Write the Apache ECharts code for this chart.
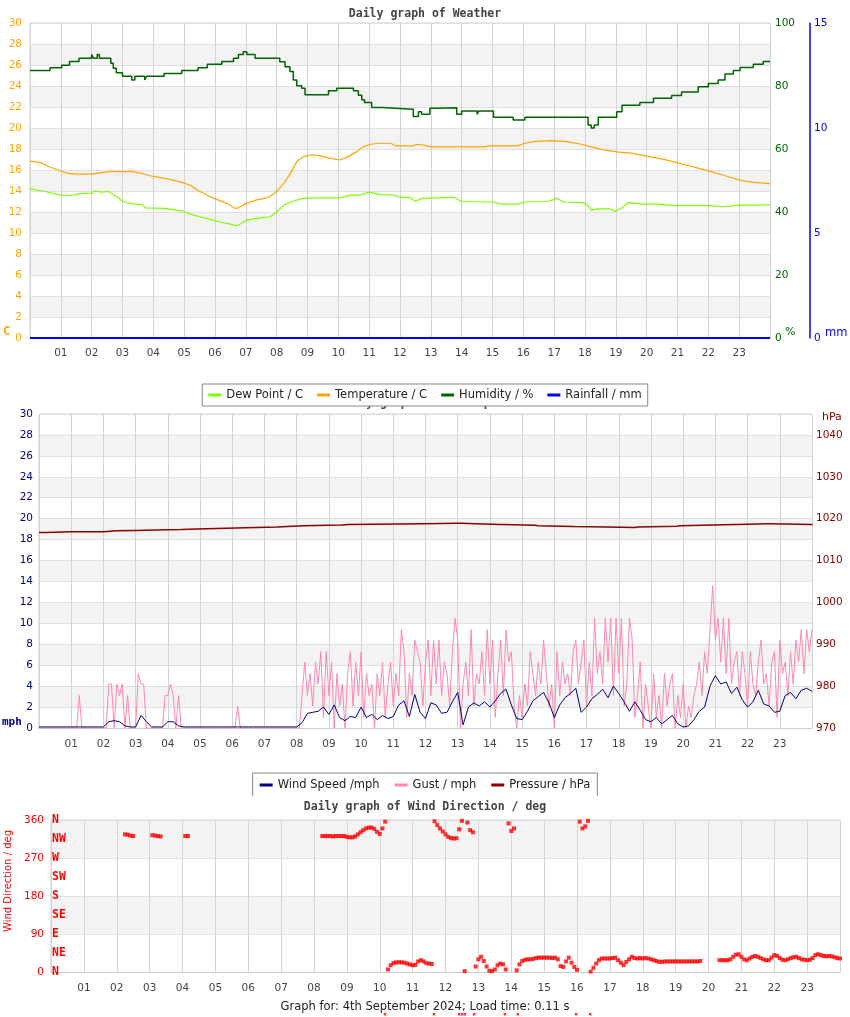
<!DOCTYPE html>
<html><head><meta charset="utf-8">
<script src="https://cdn.jsdelivr.net/npm/echarts/dist/echarts.min.js"></script>
<style>html,body{margin:0;padding:0;background:#fff}#c{width:850px;height:1017px}</style>
</head><body><div id="c"></div>
<script>
// ---------- tick labels ----------
const hourLabels = ['01','02','03','04','05','06','07','08','09','10','11','12','13','14','15','16','17','18','19','20','21','22','23'];
const compassLabels = ['N','NE','E','SE','S','SW','W','NW','N'];

// ---------- Weather panel (hours, values) ----------
const tempTime = [0,0.35,0.55,0.9,1.2,1.5,2.0,2.3,2.6,3.3,3.6,3.9,4.45,4.95,5.2,5.45,5.75,6.05,6.4,6.65,6.75,7.0,7.35,7.7,7.9,8.05,8.25,8.45,8.65,8.85,9.15,9.4,9.75,10.05,10.3,10.6,10.8,11.05,11.3,11.7,11.85,12.4,12.55,12.8,13.0,14.7,14.9,15.8,16.0,16.3,16.9,17.4,17.8,18.2,18.65,19.1,19.5,19.95,20.4,20.8,21.25,21.7,22.1,22.55,23.0,23.4,24.0];
const tempC = [16.85,16.7,16.4,16.0,15.7,15.6,15.6,15.75,15.85,15.85,15.7,15.45,15.15,14.8,14.55,14.05,13.6,13.2,12.8,12.35,12.4,12.8,13.15,13.35,13.7,14.1,14.8,15.7,16.8,17.25,17.45,17.35,17.1,16.95,17.25,17.75,18.2,18.45,18.55,18.55,18.3,18.3,18.45,18.35,18.2,18.2,18.3,18.3,18.5,18.7,18.8,18.7,18.5,18.2,17.9,17.7,17.6,17.35,17.1,16.85,16.5,16.15,15.85,15.45,15.05,14.85,14.7];

const dewTime = [0,0.3,0.5,0.75,1.0,1.2,1.5,1.6,2.0,2.1,2.3,2.55,2.7,2.85,3.0,3.35,3.65,3.75,4.4,4.75,4.95,5.2,5.5,5.85,6.15,6.5,6.7,6.85,7.0,7.35,7.8,8.0,8.25,8.55,8.85,9.3,10.05,10.4,10.7,11.0,11.35,11.8,12.0,12.3,12.5,12.7,13.75,14.0,15.0,15.3,15.85,16.0,16.8,17.1,17.3,17.95,18.1,18.22,18.4,18.8,18.97,19.2,19.4,19.85,20.4,20.9,22.0,22.5,23.0,24.0];
const dewC = [14.2,14.05,13.95,13.75,13.6,13.55,13.65,13.75,13.8,14.0,13.9,13.95,13.65,13.4,13.0,12.75,12.7,12.4,12.35,12.15,12.1,11.8,11.55,11.3,11.05,10.85,10.67,10.9,11.2,11.4,11.55,12.0,12.7,13.05,13.3,13.35,13.35,13.6,13.6,13.9,13.65,13.6,13.4,13.4,13.0,13.3,13.4,13.0,12.95,12.75,12.75,12.95,13.0,13.3,12.95,12.9,12.6,12.15,12.3,12.3,12.05,12.4,12.9,12.75,12.75,12.6,12.6,12.5,12.65,12.67];

const humTime = [0,0.65,1.03,1.28,1.59,2.0,2.06,2.18,2.25,2.62,2.7,2.8,3.0,3.3,3.4,3.72,3.78,4.35,4.92,5.45,5.75,6.22,6.6,6.76,6.92,7.03,7.3,8.1,8.27,8.43,8.54,8.65,8.81,8.92,9.68,9.95,10.49,10.65,10.76,10.85,11.08,11.41,12.43,12.6,12.7,12.97,13.19,13.84,14.0,14.5,14.55,15.03,15.67,16.05,18.1,18.2,18.3,18.43,19.03,19.2,19.78,20.22,20.81,21.13,21.67,22.0,22.32,22.54,22.81,23.03,23.46,23.78,24.0];
const humPct = [84.9,85.8,86.6,87.8,88.8,90.0,88.8,90.0,88.8,87.2,85.6,84.2,83.1,81.9,83.1,81.9,83.1,84.0,84.9,85.8,86.9,87.8,88.8,90.0,90.9,90.0,88.8,87.7,86.1,84.6,81.9,80.1,79.3,77.2,78.5,79.3,78.5,77.1,75.6,74.8,73.2,72.6,70.3,71.8,71.0,72.9,73.1,71.0,72.1,71.0,72.1,70.1,69.2,70.1,67.6,66.7,67.6,70.1,71.8,73.9,74.8,76.1,77.0,78.1,79.8,80.8,81.9,83.8,84.9,85.9,86.9,87.8,87.8];

const rainTime = [0,24];
const rainMm = [0,0];

// ---------- Wind panel ----------
const GUST_STEP_H = 1/12;   // 5-minute samples
const gustMph = [
0,0,0,0,0,0,0,0,0,0,0,0,
0,0,0,3.1,0,0,0,0,0,0,0,0,
0,0,4.2,4.2,0,4.2,3.1,4.2,0,3.1,0,0,
0,5.2,4.2,4.2,0,0,0,0,0,0,0,3.1,
3.1,4.2,3.1,0,3.1,0,0,0,0,0,0,0,
0,0,0,0,0,0,0,0,0,0,0,0,
0,0,2.1,0,0,0,0,0,0,0,0,0,
0,0,0,0,0,0,0,0,0,0,0,0,
0,0,3.1,6.3,3.1,5.2,2.1,6.3,4.2,7.3,1.0,7.3,
3.1,6.3,0,5.2,2.1,4.2,0,5.2,7.3,2.1,6.3,3.1,
7.3,1.0,5.2,3.1,4.2,0,5.2,3.1,6.3,1.0,4.2,6.3,
2.1,5.2,3.1,9.4,7.3,1.0,5.2,3.1,8.4,7.3,6.3,2.1,
6.3,8.4,3.1,8.4,4.2,8.4,3.1,6.3,5.2,2.1,7.3,10.5,
8.4,0,4.2,6.3,3.1,9.4,2.1,5.2,4.2,7.3,3.1,9.4,
4.2,8.4,1.0,5.2,8.4,3.1,9.4,6.3,7.3,2.1,0,3.1,
1.0,4.2,2.1,7.3,5.2,3.1,6.3,4.2,8.4,5.2,2.1,4.2,
0,7.3,3.1,6.3,4.2,5.2,3.1,7.3,8.4,4.2,6.3,8.4,
2.1,6.3,3.1,10.5,5.2,7.3,4.2,10.5,6.3,10.5,3.1,10.5,
5.2,10.5,2.1,4.2,10.5,8.4,1.0,3.1,6.3,0,4.2,2.1,
0,5.2,1.0,3.1,0,5.2,2.1,4.2,5.2,0,3.1,1.0,
4.2,0,2.1,1.0,3.1,4.2,6.3,3.1,7.3,5.2,9.4,13.6,
8.4,10.5,6.3,10.5,5.2,10.5,4.2,6.3,7.3,3.1,7.3,5.2,
2.1,7.3,4.2,3.1,6.3,8.4,4.2,5.2,2.1,6.3,7.3,1.0,
8.4,5.2,6.3,3.1,7.3,4.2,8.4,6.3,9.4,5.2,9.4,7.3,
9.4];

const WIND_STEP_H = 1/6;    // 10-minute samples
const windMph = [
0.1,0.1,0.1,0.1,0.1,0.1,
0.1,0.1,0.1,0.1,0.1,0.1,
0.1,0.6,0.7,0.6,0.2,0.1,
0.1,1.2,0.6,0.1,0.1,0.1,
0.6,0.6,0.2,0.1,0.1,0.1,
0.1,0.1,0.1,0.1,0.1,0.1,
0.1,0.1,0.1,0.1,0.1,0.1,
0.1,0.1,0.1,0.1,0.1,0.1,
0.1,0.5,1.4,1.5,1.6,2.0,
1.3,2.2,1.0,0.7,1.1,1.0,
2.0,1.0,1.3,0.8,1.2,0.9,
1.1,2.2,2.6,1.1,3.2,1.5,
0.9,2.4,2.2,1.4,1.5,2.5,
3.4,0.3,2.0,2.4,2.1,2.5,
2.0,2.6,3.3,3.7,2.2,0.9,
0.8,1.6,2.6,3.0,3.4,2.4,
1.0,2.2,2.9,3.3,3.8,1.5,
2.0,2.8,3.2,3.7,2.9,4.0,
3.3,2.5,1.6,2.5,1.7,0.8,
0.6,1.0,0.4,0.8,1.2,0.4,
0.1,0.2,0.8,1.6,2.0,4.0,
5.0,4.2,4.4,3.3,3.9,2.7,
2.0,2.5,3.6,2.3,2.1,1.5,
1.6,3.1,3.4,2.8,3.6,3.8,
3.5];

const pressTime = [0,0.2,1.0,2.0,2.4,3.0,3.6,4.4,5.2,6.1,7.4,8.2,9.4,9.6,11.9,13.0,13.1,14.3,14.4,15.4,15.5,16.6,17.6,18.5,18.6,19.8,19.9,21.6,21.7,22.6,22.7,24.0];
const pressHpa = [1016.7,1016.9,1016.9,1017.1,1017.2,1017.3,1017.4,1017.6,1017.8,1018.0,1018.3,1018.5,1018.6,1018.8,1018.9,1018.9,1018.6,1018.6,1018.4,1018.3,1018.1,1018.0,1017.9,1018.0,1018.2,1018.3,1018.6,1018.6,1018.8,1018.8,1018.6,1018.4];

// ---------- Wind direction panel ----------
const DIR_STEP_H = 1/12;    // 5-minute samples
const n = null;
const dirDeg = [
n,n,n,n,n,n,n,n,n,n,n,n,
n,n,n,n,n,n,n,n,n,n,n,n,
n,n,n,326,325,323,322,n,n,n,n,n,
n,324,323,322,321,n,n,n,n,n,n,n,
n,322,322,n,n,n,n,n,n,n,n,n,
n,n,n,n,n,n,n,n,n,n,n,n,
n,n,n,n,n,n,n,n,n,n,n,n,
n,n,n,n,n,n,n,n,n,n,n,n,
n,n,n,322,322,322,322,321,322,322,322,322,
320,319,319,321,326,331,336,340,342,342,339,332,
327,340,356,6,16,21,23,23,23,22,20,18,
16,17,25,28,25,21,20,19,357,348,340,333,
326,320,317,316,317,338,358,2,354,336,331,13,
30,36,26,13,3,2,6,16,20,18,6,352,
334,340,4,18,26,29,30,30,31,33,34,34,
34,34,34,33,34,30,14,12,25,34,22,12,
5,356,340,345,358,1,10,20,28,32,32,32,
32,33,34,28,22,16,24,30,36,33,32,33,
32,33,32,30,28,26,24,24,25,25,25,25,
25,25,25,25,25,25,25,25,25,26,n,n,
n,n,n,n,28,28,28,28,30,36,41,42,
36,30,28,32,36,38,36,33,30,28,28,34,
40,38,33,29,28,30,33,35,36,33,30,29,
28,29,33,40,42,40,38,37,38,37,35,33,
32];
const dirWrapTime = [10.16,11.65,12.41,12.5,12.59,12.87,13.81,14.2,15.97,16.4];
const dirWrapDeg = [-100,-100,-100,-100,-100,-100,-100,-100,-100,-100];

// ---------- helpers ----------
const zip = (ts, vs) => ts.map((t, i) => [t, vs[i]]);
const stepped = (vs, step) => vs.map((v, i) => [i * step, v]);
const hourFmt = v => (v >= 1 && v <= 23) ? hourLabels[v - 1] : '';
const FONT = 'DejaVu Sans';
const MONO = 'DejaVu Sans Mono';

function xAxisFor(idx, margin) {
  return {
    type: 'value', gridIndex: idx, min: 0, max: 24, interval: 1,
    axisLine: { show: true, lineStyle: { color: '#ccc' } },
    axisTick: { show: false },
    splitLine: { show: true, lineStyle: { color: '#d4d4d4' } },
    axisLabel: { formatter: hourFmt, color: '#444', fontSize: 10.5, fontFamily: FONT, margin: margin }
  };
}
const band = { show: true, areaStyle: { color: ['#ffffff', '#f3f3f3'] } };
const hLine = { show: true, lineStyle: { color: '#e0e0e0' } };
const noLine = { show: false };
const gridCommon = { show: true, borderColor: '#ccc', borderWidth: 1, containLabel: false, outerBoundsMode: 'none' };

const chart = echarts.init(document.getElementById('c'), null, { renderer: 'canvas' });
chart.setOption({
  animation: false,
  backgroundColor: '#fff',
  textStyle: { fontFamily: FONT },
  title: [
    { text: 'Daily graph of Weather', left: 'center', top: 3,
      textStyle: { fontFamily: MONO, fontWeight: 'bold', fontSize: 11.5, color: '#444' } },
    { text: 'Daily graph of Wind Speed', left: 'center', top: 392,
      textStyle: { fontFamily: MONO, fontWeight: 'bold', fontSize: 11.5, color: '#444' } },
    { text: 'Daily graph of Wind Direction / deg', left: 'center', top: 796, z: 8,
      backgroundColor: '#fff', padding: [5, 60, 1, 60],
      textStyle: { fontFamily: MONO, fontWeight: 'bold', fontSize: 11.5, color: '#444' } },
    { text: 'Graph for: 4th September 2024; Load time: 0.11 s', left: 'center', top: 996,
      textStyle: { fontFamily: FONT, fontWeight: 'normal', fontSize: 11.5, color: '#222' } }
  ],
  legend: [
    { data: ['Dew Point / C', 'Temperature / C', 'Humidity / %', 'Rainfall / mm'],
      left: 'center', top: 384, z: 10, backgroundColor: '#fff', borderColor: '#888', borderWidth: 1,
      padding: [5, 6], itemGap: 14, icon: 'rect', itemWidth: 13, itemHeight: 3,
      textStyle: { color: '#222', fontSize: 11.5, fontFamily: FONT } },
    { data: ['Wind Speed /mph', 'Gust / mph', 'Pressure / hPa'],
      left: 'center', top: 773, z: 2, backgroundColor: '#fff', borderColor: '#888', borderWidth: 1,
      padding: [6, 7], itemGap: 15, icon: 'rect', itemWidth: 13, itemHeight: 3,
      textStyle: { color: '#222', fontSize: 11.5, fontFamily: FONT } }
  ],
  grid: [
    Object.assign({ left: 30, top: 23, width: 740, height: 315 }, gridCommon),
    Object.assign({ left: 39, top: 414, width: 773, height: 314 }, gridCommon),
    Object.assign({ left: 51, top: 820, width: 789, height: 152 }, gridCommon)
  ],
  xAxis: [xAxisFor(0, 10), xAxisFor(1, 11), xAxisFor(2, 11)],
  yAxis: [
    { type: 'value', gridIndex: 0, position: 'left', min: 0, max: 30, interval: 2,
      axisLine: noLine, axisTick: noLine, splitLine: hLine, splitArea: band,
      axisLabel: { color: '#ffa500', fontSize: 10.5, margin: 8 } },
    { type: 'value', gridIndex: 0, position: 'right', min: 0, max: 100, interval: 20,
      axisLine: noLine, axisTick: noLine, splitLine: noLine,
      axisLabel: { color: '#006400', fontSize: 10.5, margin: 5 } },
    { type: 'value', gridIndex: 0, position: 'right', offset: 40, min: 0, max: 15, interval: 5,
      axisLine: { show: true, lineStyle: { color: '#0000ff', width: 1.5 } }, axisTick: noLine, splitLine: noLine,
      axisLabel: { color: '#0000ff', fontSize: 10.5, margin: 4 } },
    { type: 'value', gridIndex: 1, position: 'left', min: 0, max: 30, interval: 2,
      axisLine: noLine, axisTick: noLine, splitLine: hLine, splitArea: band,
      axisLabel: { color: '#000080', fontSize: 10.5, margin: 6 } },
    { type: 'value', gridIndex: 1, position: 'right', min: 970, max: 1045, interval: 5,
      axisLine: noLine, axisTick: noLine, splitLine: noLine,
      axisLabel: { color: '#8b0000', fontSize: 10.5, margin: 4,
        formatter: v => (v % 10 === 0 && v < 1045) ? String(v) : '' } },
    { type: 'value', gridIndex: 2, position: 'left', min: 0, max: 360, interval: 90,
      axisLine: noLine, axisTick: noLine, splitLine: hLine, splitArea: band,
      axisLabel: { color: '#ff0000', fontSize: 10.5, margin: 7 } },
    { type: 'value', gridIndex: 2, position: 'left', min: 0, max: 360, interval: 45,
      axisLine: noLine, axisTick: noLine, splitLine: noLine,
      axisLabel: { inside: true, margin: 1, color: '#ff0000', fontSize: 11.5, fontWeight: 'bold',
        fontFamily: MONO, formatter: v => compassLabels[Math.round(v / 45)] } }
  ],
  series: [
    { name: 'Dew Point / C', type: 'line', xAxisIndex: 0, yAxisIndex: 0, data: zip(dewTime, dewC),
      color: '#7cfc00', showSymbol: false, symbol: 'none', lineStyle: { width: 1.2 }, z: 3 },
    { name: 'Temperature / C', type: 'line', xAxisIndex: 0, yAxisIndex: 0, data: zip(tempTime, tempC),
      color: '#ffa500', showSymbol: false, symbol: 'none', lineStyle: { width: 1.2 }, z: 3 },
    { name: 'Humidity / %', type: 'line', xAxisIndex: 0, yAxisIndex: 1, data: zip(humTime, humPct), step: 'end',
      color: '#006400', showSymbol: false, symbol: 'none', lineStyle: { width: 1.5 }, z: 3 },
    { name: 'Rainfall / mm', type: 'line', xAxisIndex: 0, yAxisIndex: 2, data: zip(rainTime, rainMm),
      color: '#0000ff', showSymbol: false, symbol: 'none', lineStyle: { width: 2 }, z: 4 },
    { name: 'Gust / mph', type: 'line', xAxisIndex: 1, yAxisIndex: 3, data: stepped(gustMph, GUST_STEP_H),
      color: '#ff88aa', showSymbol: false, symbol: 'none', lineStyle: { width: 1 }, z: 3 },
    { name: 'Wind Speed /mph', type: 'line', xAxisIndex: 1, yAxisIndex: 3, data: stepped(windMph, WIND_STEP_H),
      color: '#000080', showSymbol: false, symbol: 'none', lineStyle: { width: 1 }, z: 4 },
    { name: 'Pressure / hPa', type: 'line', xAxisIndex: 1, yAxisIndex: 4, data: zip(pressTime, pressHpa), step: 'end',
      color: '#8b0000', showSymbol: false, symbol: 'none', lineStyle: { width: 1.5 }, z: 4 },
    { name: 'Wind Direction', type: 'scatter', xAxisIndex: 2, yAxisIndex: 5,
      data: stepped(dirDeg, DIR_STEP_H).filter(p => p[1] !== null),
      color: '#ff0000', symbol: 'rect', symbolSize: 4, z: 4 },
    { name: 'Wind Direction wrap', type: 'scatter', xAxisIndex: 2, yAxisIndex: 5, clip: false,
      data: zip(dirWrapTime, dirWrapDeg), color: '#ff0000', symbol: 'rect', symbolSize: 2.5, z: 4 }
  ],
  graphic: [
    { type: 'text', left: 3, top: 326, style: { text: 'C', fill: '#ffa500', font: 'bold 12px "DejaVu Sans Mono"' } },
    { type: 'text', left: 785, top: 327, style: { text: '%', fill: '#006400', font: '11px "DejaVu Sans"' } },
    { type: 'text', left: 825, top: 327, style: { text: 'mm', fill: '#0000ff', font: '11.5px "DejaVu Sans"' } },
    { type: 'text', left: 822, top: 412, style: { text: 'hPa', fill: '#8b0000', font: '11px "DejaVu Sans"' } },
    { type: 'text', left: 2, top: 717, style: { text: 'mph', fill: '#000080', font: 'bold 11px "DejaVu Sans Mono"' } },
    { type: 'text', x: 8.5, y: 881, rotation: Math.PI / 2,
      style: { text: 'Wind Direction / deg', fill: '#ff0000', font: '10px "DejaVu Sans"',
        textAlign: 'center', textVerticalAlign: 'middle' } }
  ]
});
</script>
</body></html>
